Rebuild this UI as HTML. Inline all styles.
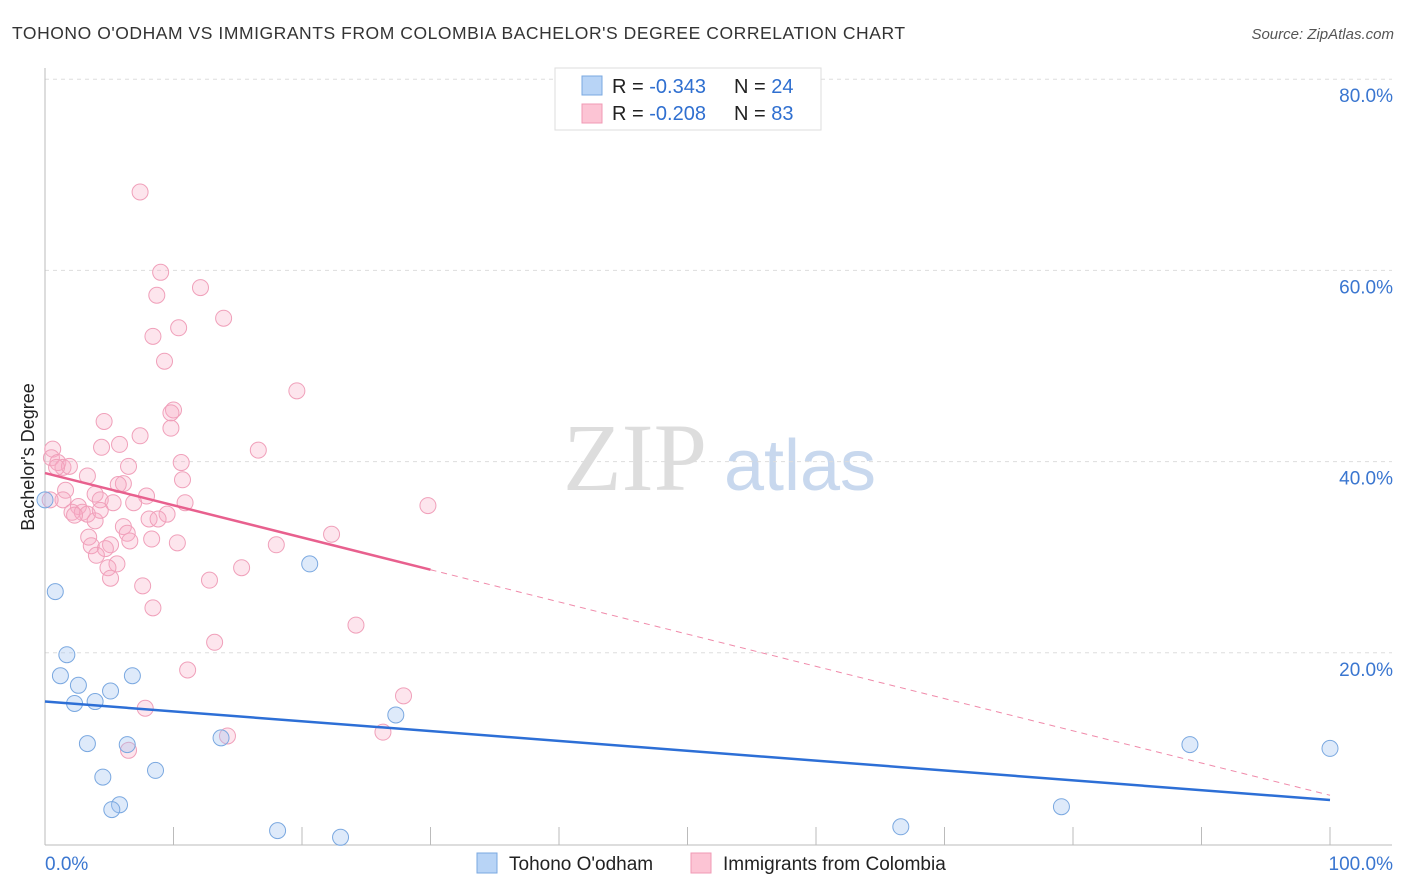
<!DOCTYPE html>
<html><head><meta charset="utf-8"><style>
body{margin:0;background:#fff;font-family:"Liberation Sans",sans-serif;}
#wrap{position:relative;width:1406px;height:892px;overflow:hidden;}
</style></head><body>
<div id="wrap">
<svg id="svg" width="1406" height="892" xmlns="http://www.w3.org/2000/svg">
<text x="12" y="39" font-size="17.5" letter-spacing="0.55" fill="#333">TOHONO O'ODHAM VS IMMIGRANTS FROM COLOMBIA BACHELOR'S DEGREE CORRELATION CHART</text>
<text x="1394" y="39" font-size="15" fill="#555" font-style="italic" text-anchor="end">Source: ZipAtlas.com</text>
<text x="34" y="457" font-size="18" fill="#222" text-anchor="middle" transform="rotate(-90 34 457)">Bachelor's Degree</text>
<g><text x="635" y="490" font-size="96" fill="#ddd" font-family="Liberation Serif,serif" text-anchor="middle">ZIP</text><text x="800" y="490" font-size="72" fill="#c8d8ee" text-anchor="middle">atlas</text></g>
<g id="grid"></g><g id="marks"></g>
<g>
<rect x="555" y="68" width="266" height="62" fill="#fff" stroke="#ddd"/>
<rect x="582" y="76" width="20" height="19" fill="#b8d4f6" stroke="#7aa8e0"/>
<rect x="582" y="104" width="20" height="19" fill="#fcc4d4" stroke="#f09ab4"/>
<text x="612" y="93" font-size="20" fill="#222">R = <tspan fill="#2f6fd0">-0.343</tspan><tspan x="734">N = </tspan><tspan fill="#2f6fd0">24</tspan></text>
<text x="612" y="120" font-size="20" fill="#222">R = <tspan fill="#2f6fd0">-0.208</tspan><tspan x="734">N = </tspan><tspan fill="#2f6fd0">83</tspan></text>
</g>
<g>
<rect x="477" y="853" width="20" height="20" fill="#b8d4f6" stroke="#7aa8e0"/>
<text x="509" y="870" font-size="19" fill="#222">Tohono O'odham</text>
<rect x="691" y="853" width="20" height="20" fill="#fcc4d4" stroke="#f09ab4"/>
<text x="723" y="870" font-size="19" fill="#222">Immigrants from Colombia</text>
</g>
</svg>
</div>
<script>
const yTicks=[20,40,60,80];
const xTickLabels=["0.0%","100.0%"];
const blueX=[0,0.8,1.7,1.2,2.6,2.3,3.9,5.1,6.8,3.3,6.4,4.5,8.6,5.8,5.2,13.7,18.1,23.0,20.6,27.3,66.6,79.1,89.1,100];
const blueY=[36.0,26.4,19.8,17.6,16.6,14.7,14.9,16.0,17.6,10.5,10.4,7.0,7.7,4.1,3.6,11.1,1.4,0.7,29.3,13.5,1.8,3.9,10.4,10.0];
const pinkX=[7.4,9.0,8.7,12.1,13.9,10.4,8.4,9.3,19.6,10.0,9.8,9.8,4.6,7.4,5.8,4.4,16.6,0.6,0.5,1.0,1.4,1.9,0.9,10.6,6.5,3.3,10.7,6.1,5.7,1.6,3.9,7.9,1.4,4.3,5.3,6.9,10.9,29.8,2.6,2.1,2.9,3.3,9.5,8.1,8.8,3.9,6.1,6.4,22.3,3.4,8.3,6.6,10.3,5.1,3.6,4.7,18.0,4.0,5.6,4.9,15.3,5.1,12.8,7.6,8.4,24.2,13.2,11.1,27.9,7.8,14.2,26.3,6.5,2.3,4.3,0.4];
const pinkY=[68.2,59.8,57.4,58.2,55.0,54.0,53.1,50.5,47.4,45.4,45.1,43.5,44.2,42.7,41.8,41.5,41.2,41.3,40.4,39.9,39.4,39.5,39.4,39.9,39.5,38.5,38.1,37.7,37.6,37.0,36.6,36.4,36.0,36.0,35.7,35.7,35.7,35.4,35.3,34.7,34.7,34.5,34.5,34.0,34.0,33.8,33.2,32.5,32.4,32.1,31.9,31.7,31.5,31.3,31.2,30.9,31.3,30.2,29.3,28.9,28.9,27.8,27.6,27.0,24.7,22.9,21.1,18.2,15.5,14.2,11.3,11.7,9.8,34.4,34.9,36.0];
const blueTrend=[14.9,4.6];
const pinkTrend=[38.8,5.1];
const pinkSolidEnd=30;
const NS="http://www.w3.org/2000/svg";
const X=v=>45+v*12.85, Y=v=>844-v*9.56;
const grid=document.getElementById('grid'), marks=document.getElementById('marks');
function mk(tag,a,parent){const e=document.createElementNS(NS,tag);for(const k in a)e.setAttribute(k,a[k]);parent.appendChild(e);return e;}
yTicks.forEach(t=>{
 const l=mk('line',{x1:45,x2:1392,y1:Y(t),y2:Y(t),stroke:'#ddd','stroke-dasharray':'4,4'},grid);
 
 
 const tx=mk('text',{x:1393,y:Y(t)+23,'font-size':19,fill:'#3a76d0','text-anchor':'end'},grid);
 tx.textContent=t.toFixed(1)+'%';
 
 
});
const ax=mk('line',{x1:45,x2:45,y1:68,y2:845,stroke:'#bbb'},grid);


const bx=mk('line',{x1:45,x2:1392,y1:845,y2:845,stroke:'#bbb'},grid);


for(let i=0;i<=10;i++){const t=mk('line',{x1:X(i*10),x2:X(i*10),y1:827,y2:845,stroke:'#bbb'},grid);
 
 }
[[0,'start',45],[100,'end',1393]].forEach((d,i)=>{const t=mk('text',{x:d[2],y:870,'font-size':19,fill:'#3a76d0','text-anchor':d[1]},grid);t.textContent=xTickLabels[i];
 
 });
pinkX.forEach((v,i)=>{const c=mk('circle',{cx:X(v),cy:Y(pinkY[i]),r:8,fill:'rgba(248,170,196,0.3)',stroke:'#f0a0ba','stroke-width':1},marks);
 
 });
blueX.forEach((v,i)=>{const c=mk('circle',{cx:X(v),cy:Y(blueY[i]),r:8,fill:'rgba(160,196,240,0.35)',stroke:'#7aa8e0','stroke-width':1},marks);
 
 });
const pAt=x=>pinkTrend[0]+(pinkTrend[1]-pinkTrend[0])*x/100;
const l1=mk('line',{x1:X(0),y1:Y(pinkTrend[0]),x2:X(pinkSolidEnd),y2:Y(pAt(pinkSolidEnd)),stroke:'#e8608e','stroke-width':2.5},marks);


const l2=mk('line',{x1:X(pinkSolidEnd),y1:Y(pAt(pinkSolidEnd)),x2:X(100),y2:Y(pinkTrend[1]),stroke:'#f08aaa','stroke-width':1,'stroke-dasharray':'6,5'},marks);


const l3=mk('line',{x1:X(0),y1:Y(blueTrend[0]),x2:X(100),y2:Y(blueTrend[1]),stroke:'#2d6fd6','stroke-width':2.5},marks);


</script>
</body></html>
